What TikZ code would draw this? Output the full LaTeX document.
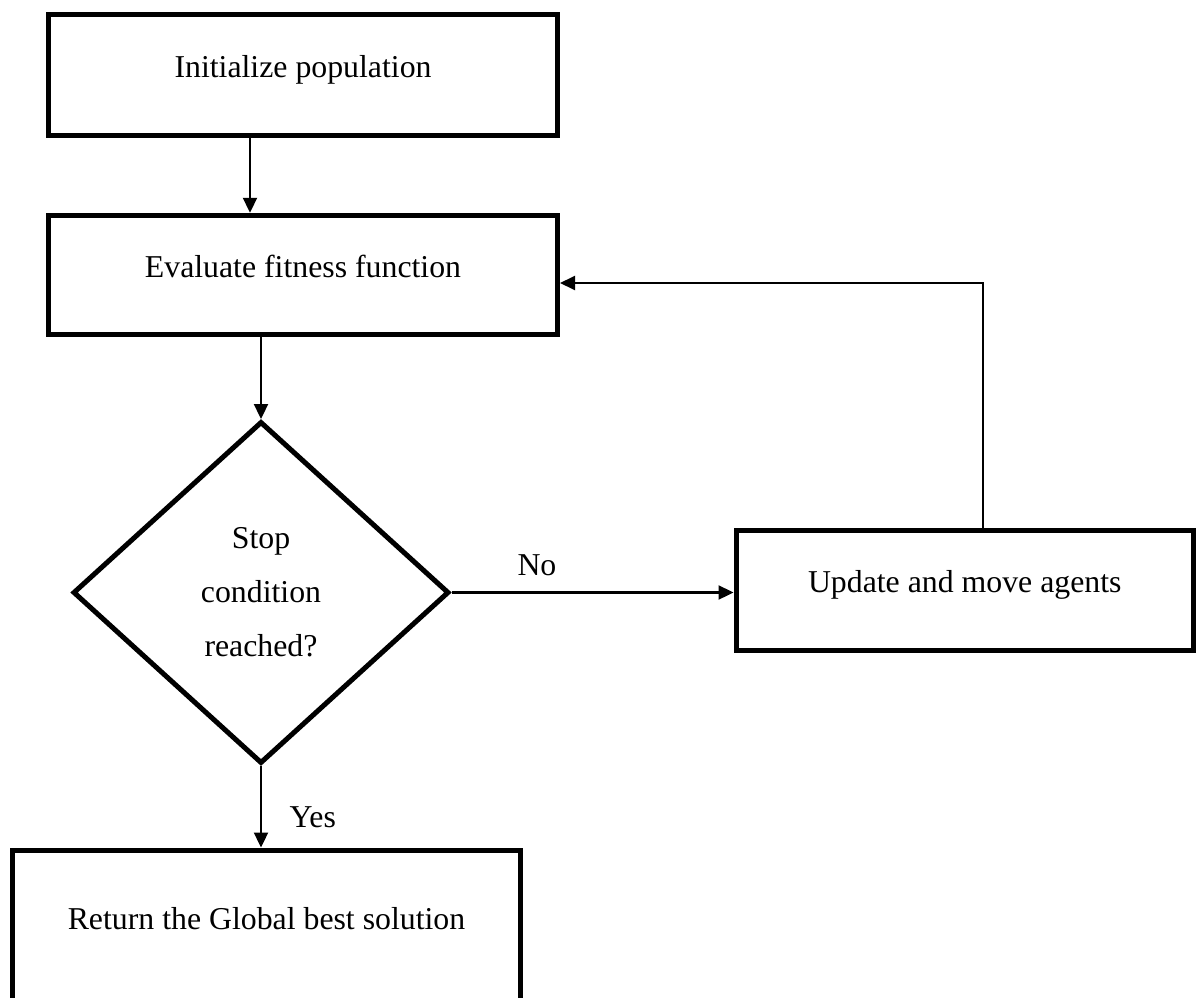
\documentclass[tikz,border=0pt]{standalone}
\usepackage{fontspec}
\setmainfont{Liberation Serif}
\usetikzlibrary{shapes.geometric,arrows.meta}
\begin{document}
\begin{tikzpicture}[x=1pt,y=-1pt,
  box/.style={draw,line width=5pt,rectangle,inner sep=0pt,text height=24pt,text depth=19pt,font=\fontsize{31.8}{38}\selectfont},
  dec/.style={draw,line width=5pt,diamond,inner sep=0pt,align=center,font=\fontsize{31.8}{54}\selectfont},
  arr/.style={line width=2.3pt,-{Triangle[length=15pt,width=14pt]}},
  lbl/.style={inner sep=0pt,font=\fontsize{31.8}{38}\selectfont}]
\useasboundingbox (0,0) rectangle (1196,998);
\node[box,minimum width=509pt,minimum height=120pt] (init) at (303,75) {Initialize population};
\node[box,minimum width=509pt,minimum height=119.5pt] (eval) at (303,275) {Evaluate fitness function};
\node[dec,minimum width=376pt,minimum height=342pt] (stop) at (261,592.5) {Stop\\condition\\reached?};
\node[box,minimum width=457.5pt,minimum height=120.5pt] (upd) at (964.75,590.25) {Update and move agents};
\node[box,minimum width=508pt,minimum height=153pt] (ret) at (266.5,926.5) {Return the Global best solution};
\draw[arr] ([xshift=-53pt]init.south) -- ([xshift=-53pt]eval.north);
\draw[arr] (stop.north |- eval.south) -- (stop.north);
\draw[arr] (stop.east) -- (stop.east -| upd.west) node[lbl,pos=0.303,anchor=base,yshift=17.5pt]{No};
\draw[arr] (stop.south) -- (stop.south |- ret.north) node[lbl,pos=0.76,anchor=base west,xshift=27.5pt]{Yes};
\draw[arr,line width=1.9pt] ([xshift=18.5pt]upd.north) |- ([yshift=-8pt]eval.east);
\end{tikzpicture}
\end{document}
